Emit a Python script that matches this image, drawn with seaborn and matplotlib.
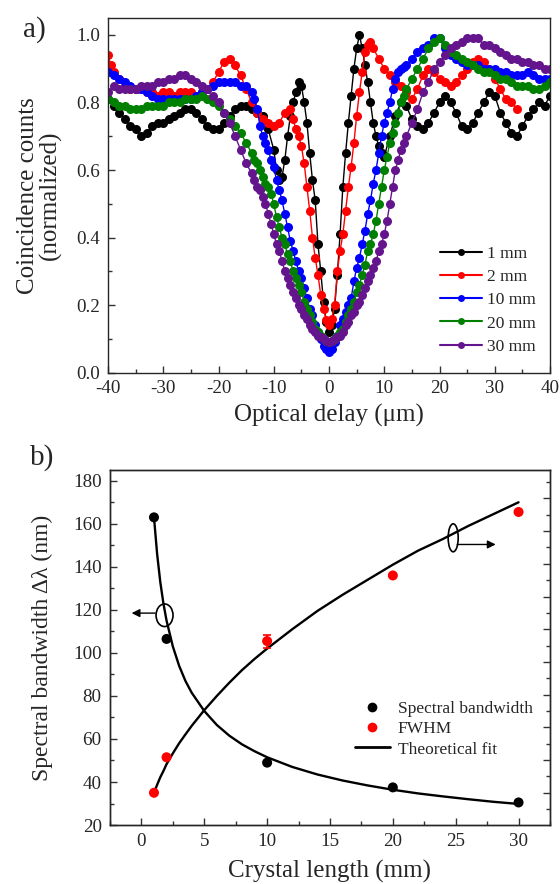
import numpy as np
import pandas as pd
import matplotlib
matplotlib.use("Agg")
import matplotlib.pyplot as plt
import seaborn as sns
from matplotlib.patches import Ellipse
from matplotlib.lines import Line2D
from matplotlib.ticker import MultipleLocator, NullFormatter, FuncFormatter

# ---------------- data: panel a ----------------
labels_a = ["1 mm", "2 mm", "10 mm", "20 mm", "30 mm"]
colors_a = ["#000000", "#ff0000", "#0000ff", "#008000", "#64148c"]

x_1mm = list(range(-40, -10)) + list(np.arange(-10, 10.01, 0.5)) + list(range(11, 41))
y_1mm = [0.81, 0.79, 0.77, 0.75, 0.73, 0.72, 0.70, 0.71, 0.73, 0.74,
         0.74, 0.75, 0.76, 0.77, 0.78, 0.78, 0.77, 0.75, 0.73, 0.72,
         0.72, 0.74, 0.76, 0.78, 0.79, 0.79, 0.78, 0.77, 0.76, 0.72,
         0.66, 0.60, 0.57, 0.58, 0.63, 0.70, 0.76, 0.80, 0.83, 0.86,
         0.85, 0.80, 0.74, 0.65, 0.57, 0.51, 0.38, 0.30, 0.21, 0.15,
         0.12, 0.14, 0.19, 0.29, 0.41, 0.55, 0.65, 0.74, 0.82, 0.90,
         0.96, 1.00, 0.96, 0.91, 0.86, 0.80, 0.74, 0.70, 0.67, 0.65,
         0.64,
         0.70, 0.76, 0.80, 0.79, 0.75, 0.73, 0.72, 0.74, 0.77, 0.80,
         0.82, 0.80, 0.77, 0.73, 0.72, 0.74, 0.77, 0.80, 0.83, 0.82,
         0.77, 0.74, 0.71, 0.70, 0.73, 0.76, 0.78, 0.80, 0.79, 0.82]

x_2mm = [-40, -39.5] + list(range(-39, -6)) + list(np.arange(-6.5, 8.01, 0.5)) + list(range(9, 35))
y_2mm = [0.94, 0.91,
         0.89, 0.87, 0.85, 0.84, 0.84, 0.84, 0.83, 0.83, 0.82, 0.83,
         0.83, 0.82, 0.83, 0.83, 0.83, 0.82, 0.83, 0.84, 0.86, 0.89,
         0.92, 0.93, 0.91, 0.88, 0.84, 0.80, 0.77, 0.75, 0.74, 0.73,
         0.74, 0.77, 0.78,
         0.75, 0.72, 0.70, 0.67, 0.62, 0.55, 0.48, 0.40, 0.34, 0.29,
         0.23, 0.19, 0.155, 0.14, 0.16, 0.20, 0.30, 0.36, 0.41, 0.48,
         0.55, 0.61, 0.68, 0.76, 0.83, 0.89, 0.95, 0.97, 0.98, 0.96,
         0.93, 0.90, 0.88, 0.86, 0.85, 0.83, 0.81, 0.84, 0.88, 0.90,
         0.89, 0.87, 0.86, 0.85, 0.86, 0.88, 0.90, 0.92, 0.93, 0.92,
         0.90, 0.87, 0.84, 0.81, 0.80, 0.78]

x_wide = list(range(-40, -14)) + list(np.arange(-14, 14.01, 0.5)) + list(range(15, 41))
y_10mm = [0.89, 0.88, 0.87, 0.86, 0.85, 0.84, 0.84, 0.83, 0.82, 0.81,
          0.81, 0.81, 0.81, 0.81, 0.81, 0.81, 0.82, 0.83, 0.84, 0.85,
          0.86, 0.86, 0.86, 0.86, 0.85, 0.85,
          0.83, 0.81, 0.78, 0.73, 0.70, 0.68, 0.66, 0.63, 0.61, 0.57,
          0.54, 0.51, 0.47, 0.43, 0.39, 0.36, 0.33, 0.30, 0.28, 0.25,
          0.22, 0.19, 0.17, 0.14, 0.12, 0.10, 0.08, 0.07, 0.06, 0.07,
          0.09, 0.11, 0.14, 0.16, 0.18, 0.20, 0.22, 0.27, 0.31, 0.34,
          0.38, 0.42, 0.47, 0.51, 0.56, 0.60, 0.65, 0.70, 0.74, 0.77,
          0.80, 0.84, 0.87, 0.89, 0.90, 0.905, 0.91,
          0.93, 0.95, 0.96, 0.97, 0.99, 0.99, 0.96, 0.94, 0.93, 0.92,
          0.91, 0.91, 0.91, 0.90, 0.90, 0.90, 0.89, 0.89, 0.88, 0.88,
          0.88, 0.89, 0.88, 0.87, 0.87, 0.87]
y_20mm = [0.81, 0.80, 0.79, 0.79, 0.78, 0.78, 0.78, 0.79, 0.79, 0.79,
          0.79, 0.80, 0.80, 0.80, 0.81, 0.81, 0.81, 0.82, 0.81, 0.80,
          0.79, 0.77, 0.75, 0.73, 0.71, 0.68,
          0.65, 0.63, 0.62, 0.60, 0.58, 0.56, 0.55, 0.53, 0.50, 0.46,
          0.43, 0.40, 0.38, 0.35, 0.33, 0.30, 0.28, 0.26, 0.24, 0.21,
          0.19, 0.17, 0.15, 0.13, 0.12, 0.11, 0.10, 0.095, 0.09, 0.095,
          0.10, 0.11, 0.12, 0.13, 0.15, 0.17, 0.19, 0.21, 0.24, 0.26,
          0.29, 0.32, 0.36, 0.38, 0.41, 0.45, 0.50, 0.55, 0.60, 0.64,
          0.68, 0.71, 0.74, 0.77, 0.80, 0.82, 0.84,
          0.87, 0.90, 0.93, 0.96, 0.98, 0.99, 0.97, 0.95, 0.94, 0.93,
          0.92, 0.91, 0.90, 0.89, 0.89, 0.88, 0.87, 0.87, 0.86, 0.85,
          0.85, 0.85, 0.84, 0.84, 0.85, 0.86]
y_30mm = [0.83, 0.85, 0.84, 0.84, 0.84, 0.84, 0.85, 0.85, 0.85, 0.86,
          0.86, 0.87, 0.87, 0.88, 0.88, 0.87, 0.86, 0.85, 0.84, 0.82,
          0.80, 0.77, 0.74, 0.70, 0.66, 0.62,
          0.59, 0.57, 0.55, 0.54, 0.52, 0.50, 0.47, 0.44, 0.41, 0.38,
          0.36, 0.33, 0.30, 0.28, 0.26, 0.24, 0.22, 0.20, 0.19, 0.17,
          0.16, 0.14, 0.13, 0.12, 0.11, 0.105, 0.10, 0.095, 0.09, 0.095,
          0.10, 0.105, 0.11, 0.12, 0.14, 0.15, 0.17, 0.18, 0.20, 0.21,
          0.23, 0.25, 0.27, 0.29, 0.31, 0.33, 0.36, 0.38, 0.41, 0.45,
          0.50, 0.55, 0.60, 0.63, 0.66, 0.68, 0.70,
          0.74, 0.78, 0.83, 0.86, 0.90, 0.92, 0.94, 0.96, 0.97, 0.98,
          0.99, 0.99, 0.99, 0.97, 0.97, 0.96, 0.95, 0.94, 0.93, 0.93,
          0.92, 0.92, 0.91, 0.91, 0.90, 0.90]

# ---------------- data: panel b ----------------
crystal_len = [1, 2, 10, 20, 30]
spectral_bw = [163, 106.5, 49, 37.5, 30.5]
fwhm = [35, 51.5, 105.5, 136, 165.5]          # plotted on left-axis scale
fwhm_err = [0, 0, 3, 0, 0]

fit_x = [1, 1.25, 1.5, 1.75, 2, 2.5, 3, 3.5, 4, 5, 6, 7, 8, 9, 10,
         12, 14, 16, 18, 20, 22, 24, 26, 28, 30]
fit_bw = [163, 146, 133, 123, 115, 103, 94, 87, 81.5, 73, 66.5, 61.5, 57.5,
          54.3, 51.5, 47, 43.5, 40.7, 38.4, 36.4, 34.7, 33.3, 32, 30.8, 29.8]
fit_fwhm = [35, 38.7, 42.2, 45.1, 48.3, 53.3, 58, 62.1, 66.1, 73.4, 80, 86.2,
            92, 97.2, 102, 111, 119.5, 127, 134, 141, 147.5, 153, 159, 164.5, 170]

# ---------------- style ----------------
sns.set_style("ticks")
plt.rcParams["font.family"] = ["Liberation Serif", "DejaVu Serif"]
plt.rcParams["axes.linewidth"] = 1.0
plt.rcParams["xtick.direction"] = "in"
plt.rcParams["ytick.direction"] = "in"

TICK_FS = 13.7
LABEL_FS = 18

fig = plt.figure(figsize=(5.6, 8.84), dpi=100)

# ---------------- panel a ----------------
ax1 = fig.add_axes([0.1929, 0.5784, 0.7893, 0.4012])
series = [(x_1mm, y_1mm), (x_2mm, y_2mm), (x_wide, y_10mm), (x_wide, y_20mm), (x_wide, y_30mm)]
rows = []
for lab, (xs, ys) in zip(labels_a, series):
    for xv, yv in zip(xs, ys):
        rows.append((lab, float(xv), yv))
df_a = pd.DataFrame(rows, columns=["length", "delay", "counts"])

for lab, col in zip(labels_a, colors_a):
    sub = df_a[df_a["length"] == lab]
    sns.lineplot(data=sub, x="delay", y="counts", color=col, marker="o",
                 markersize=6.5, markeredgewidth=0, linewidth=1.0,
                 estimator=None, sort=False, ax=ax1, legend=False)

ax1.set_xlim(-40, 40)
ax1.set_ylim(0, 1.05)
ax1.xaxis.set_major_locator(MultipleLocator(10))
ax1.xaxis.set_minor_locator(MultipleLocator(5))
ax1.yaxis.set_major_locator(MultipleLocator(0.2))
ax1.yaxis.set_minor_locator(MultipleLocator(0.1))
ax1.xaxis.set_major_formatter(FuncFormatter(lambda v, p: f"{v:.0f}"))
ax1.yaxis.set_major_formatter(FuncFormatter(lambda v, p: f"{v:.1f}"))
ax1.tick_params(which="both", top=False, right=False, labelsize=TICK_FS, color="#333333")
ax1.tick_params(which="major", length=5, width=1)
ax1.tick_params(which="minor", length=3, width=1)
ax1.tick_params(axis="x", pad=5)
ax1.tick_params(axis="y", pad=6)
ax1.set_xlabel("Optical delay (μm)", fontsize=LABEL_FS)
ax1.set_ylabel("Coincidence counts\n(normalized)", fontsize=LABEL_FS, linespacing=1.0)
ax1.xaxis.set_label_coords(0.5, -0.088)
ax1.yaxis.set_label_coords(-0.104, 0.5)

handles = [Line2D([0], [0], color=c, marker="o", markersize=5, markeredgewidth=0, lw=1.5)
           for c in colors_a]
ax1.legend(handles, labels_a, loc="upper left", bbox_to_anchor=(0.751, 0.357),
           frameon=False, fontsize=12.5, handlelength=2.4, handletextpad=0.3,
           labelspacing=0.4, borderpad=0, borderaxespad=0)

# ---------------- panel b ----------------
ax2 = fig.add_axes([0.1964, 0.0667, 0.7857, 0.4016])
df_fit = pd.DataFrame({"L": fit_x * 2,
                       "val": fit_bw + fit_fwhm,
                       "curve": ["bw"] * len(fit_x) + ["fwhm"] * len(fit_x)})
sns.lineplot(data=df_fit, x="L", y="val", units="curve", estimator=None,
             color="black", linewidth=1.7, ax=ax2, legend=False, sort=False)

df_b = pd.DataFrame({"L": crystal_len * 2,
                     "val": spectral_bw + fwhm,
                     "kind": ["Spectral bandwidth"] * 5 + ["FWHM"] * 5})
sns.scatterplot(data=df_b, x="L", y="val", hue="kind",
                palette={"Spectral bandwidth": "black", "FWHM": "red"},
                s=52, linewidth=0, ax=ax2, legend=False, zorder=3)
ax2.errorbar(crystal_len, fwhm, yerr=fwhm_err, fmt="none", ecolor="red",
             elinewidth=1.2, capsize=3, capthick=1.2, zorder=2)

# ellipses + arrows
ax2.add_patch(Ellipse((1.84, 117.5), 1.35, 10.5, angle=0, fill=False, lw=1.2, ec="black"))
ax2.annotate("", xy=(-1.0, 118.5), xytext=(1.3, 118.5),
             arrowprops=dict(arrowstyle="-|>", color="black", lw=1.0, mutation_scale=12))
ax2.add_patch(Ellipse((24.8, 153.5), 0.8, 13.0, angle=0, fill=False, lw=1.2, ec="black"))
ax2.annotate("", xy=(28.4, 150.4), xytext=(24.9, 150.4),
             arrowprops=dict(arrowstyle="-|>", color="black", lw=1.0, mutation_scale=12))

ax2.set_xlim(-2.5, 32.5)
ax2.set_ylim(20, 185)
ax2.xaxis.set_major_locator(MultipleLocator(5))
ax2.xaxis.set_minor_locator(MultipleLocator(2.5))
ax2.yaxis.set_major_locator(MultipleLocator(20))
ax2.yaxis.set_minor_locator(MultipleLocator(10))
ax2.tick_params(which="both", top=False, right=False, labelsize=TICK_FS, color="#333333")
ax2.tick_params(which="major", length=5, width=1)
ax2.tick_params(which="minor", length=3, width=1)
ax2.tick_params(axis="x", pad=6)
ax2.tick_params(axis="y", pad=6)
ax2.set_xlabel("Crystal length (mm)", fontsize=LABEL_FS)
ax2.set_ylabel("Spectral bandwidth Δλ (nm)", fontsize=17)
ax2.xaxis.set_label_coords(0.5, -0.099)
ax2.yaxis.set_label_coords(-0.13, 0.5)

ax3 = ax2.twinx()
ax3.set_ylim(1.013, 11.868)
ax3.yaxis.set_major_locator(MultipleLocator(1))
ax3.yaxis.set_minor_locator(MultipleLocator(0.5))
ax3.yaxis.set_major_formatter(NullFormatter())
ax3.tick_params(which="both", direction="in", color="#333333")
ax3.tick_params(which="major", length=5, width=1)
ax3.tick_params(which="minor", length=3, width=1)

hb = [Line2D([0], [0], ls="none", marker="o", color="black", markersize=7, markeredgewidth=0),
      Line2D([0], [0], ls="none", marker="o", color="red", markersize=7, markeredgewidth=0),
      Line2D([0], [0], color="black", lw=2)]
ax2.legend(hb, ["Spectral bandwidth", "FWHM", "Theoretical fit"], loc="upper left",
           bbox_to_anchor=(0.557, 0.35), frameon=False, fontsize=12.5,
           handlelength=2.0, handletextpad=0.45, labelspacing=0.24,
           borderpad=0, borderaxespad=0)

fig.text(23 / 560, 1 - 30 / 884, "a)", fontsize=21, va="center", ha="left")
fig.text(30 / 560, 1 - 458 / 884, "b)", fontsize=21, va="center", ha="left")

fig.savefig("out.png", dpi=100)
